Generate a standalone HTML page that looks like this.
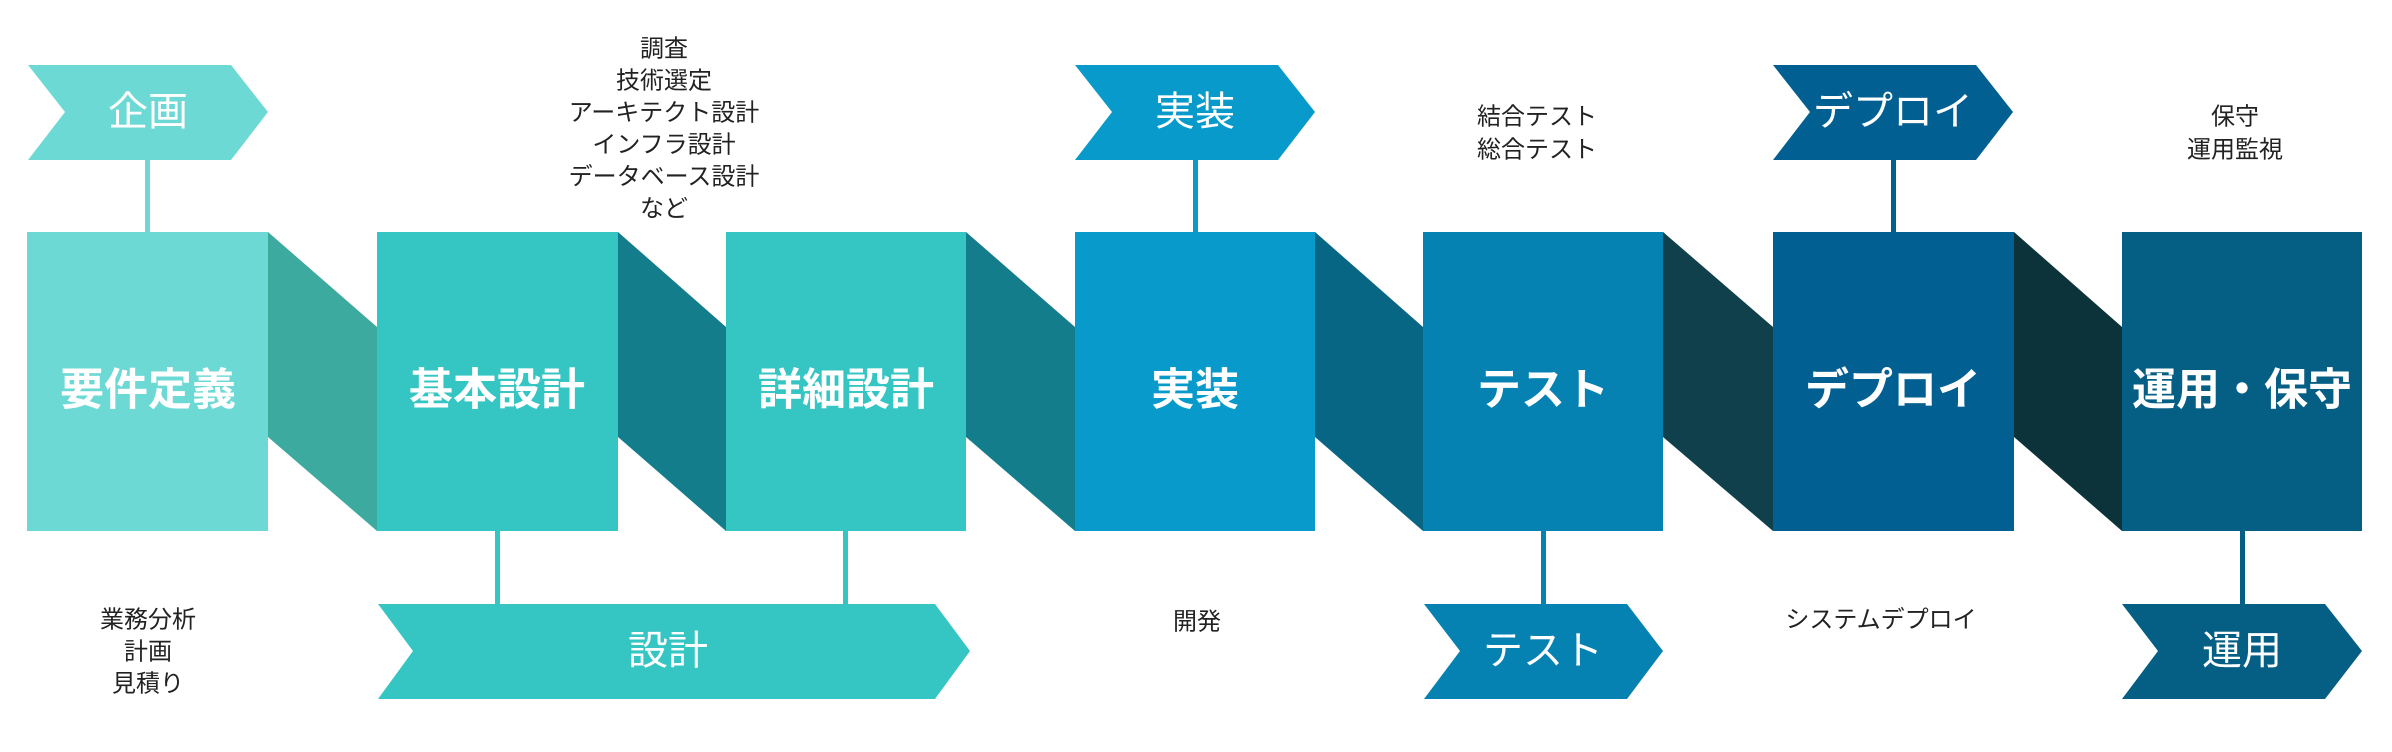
<!DOCTYPE html>
<html><head><meta charset="utf-8"><style>
html,body{margin:0;padding:0;background:#fff;}
svg{display:block;}
text{font-family:"Liberation Sans","Noto Sans CJK JP",sans-serif;}
.b{font-size:44px;font-weight:bold;fill:#fff;text-anchor:middle;dominant-baseline:central;}
.c{font-size:40px;fill:#fff;text-anchor:middle;dominant-baseline:central;}
.n{font-size:24px;fill:#222;text-anchor:middle;dominant-baseline:central;}
</style></head><body>
<svg width="2392" height="752" viewBox="0 0 2392 752" xmlns="http://www.w3.org/2000/svg">
<polygon points="268,232 377,327 377,531 268,437" fill="#3daaa0"/>
<polygon points="618,232 726,327 726,531 618,437" fill="#137d8b"/>
<polygon points="966,232 1075,327 1075,531 966,437" fill="#137d8b"/>
<polygon points="1315,232 1423,327 1423,531 1315,437" fill="#066684"/>
<polygon points="1663,232 1773,327 1773,531 1663,437" fill="#0f404b"/>
<polygon points="2014,232 2122,327 2122,531 2014,437" fill="#0b3339"/>
<rect x="27" y="232" width="241" height="299" fill="#6dd9d5"/>
<rect x="377" y="232" width="241" height="299" fill="#35c6c3"/>
<rect x="726" y="232" width="240" height="299" fill="#35c6c3"/>
<rect x="1075" y="232" width="240" height="299" fill="#089acb"/>
<rect x="1423" y="232" width="240" height="299" fill="#0582b2"/>
<rect x="1773" y="232" width="241" height="299" fill="#025f92"/>
<rect x="2122" y="232" width="240" height="299" fill="#055e84"/>
<rect x="145" y="160" width="5" height="72" fill="#6dd9d5"/>
<rect x="1193" y="160" width="5" height="72" fill="#089acb"/>
<rect x="1891" y="160" width="5" height="72" fill="#025f92"/>
<rect x="495" y="531" width="5" height="73" fill="#35c6c3"/>
<rect x="843" y="531" width="5" height="73" fill="#35c6c3"/>
<rect x="1541" y="531" width="5" height="73" fill="#0582b2"/>
<rect x="2240" y="531" width="5" height="73" fill="#055e84"/>
<polygon points="28,65 231,65 268,112 231,160 28,160 65,112" fill="#6dd9d5"/>
<polygon points="1075,65 1278,65 1315,112 1278,160 1075,160 1112,112" fill="#089acb"/>
<polygon points="1773,65 1976,65 2013,112 1976,160 1773,160 1810,112" fill="#025f92"/>
<polygon points="378,604 935,604 970,651 935,699 378,699 413,651" fill="#35c6c3"/>
<polygon points="1424,604 1627,604 1663,651 1627,699 1424,699 1460,651" fill="#0582b2"/>
<polygon points="2122,604 2325,604 2362,651 2325,699 2122,699 2158,651" fill="#055e84"/>
<text class="b" x="148" y="390">要件定義</text>
<text class="b" x="497" y="390">基本設計</text>
<text class="b" x="846" y="390">詳細設計</text>
<text class="b" x="1195" y="390">実装</text>
<text class="b" x="1543" y="390">テスト</text>
<text class="b" x="1893" y="390">デプロイ</text>
<text class="b" x="2242" y="390">運用・保守</text>
<text class="c" x="148" y="112">企画</text>
<text class="c" x="1195" y="112">実装</text>
<text class="c" x="1893" y="112">デプロイ</text>
<text class="c" x="668" y="651">設計</text>
<text class="c" x="1543" y="651">テスト</text>
<text class="c" x="2242" y="651">運用</text>
<text class="n" x="664" y="49">調査</text>
<text class="n" x="664" y="81">技術選定</text>
<text class="n" x="664" y="113">アーキテクト設計</text>
<text class="n" x="664" y="145">インフラ設計</text>
<text class="n" x="664" y="177">データベース設計</text>
<text class="n" x="664" y="209">など</text>
<text class="n" x="1537" y="117">結合テスト</text>
<text class="n" x="1537" y="150">総合テスト</text>
<text class="n" x="2235" y="117">保守</text>
<text class="n" x="2235" y="150">運用監視</text>
<text class="n" x="148" y="620">業務分析</text>
<text class="n" x="148" y="652">計画</text>
<text class="n" x="148" y="684">見積り</text>
<text class="n" x="1197" y="622">開発</text>
<text class="n" x="1881" y="620">システムデプロイ</text>
</svg>
</body></html>
